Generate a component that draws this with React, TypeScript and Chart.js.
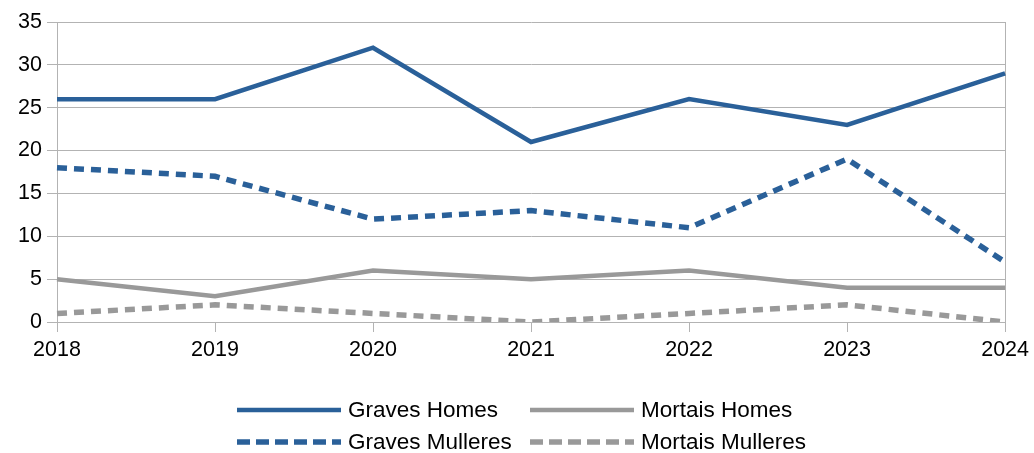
import React, { useEffect, useRef } from 'react';
import { Chart, registerables } from 'chart.js';

Chart.register(...registerables);

const years = ['2018', '2019', '2020', '2021', '2022', '2023', '2024'];
const gravesHomes = [26, 26, 32, 21, 26, 23, 29];
const mortaisHomes = [5, 3, 6, 5, 6, 4, 4];
const gravesMulleres = [18, 17, 12, 13, 11, 19, 7];
const mortaisMulleres = [1, 2, 1, 0, 1, 2, 0];
const seriesLabels = ['Graves Homes', 'Mortais Homes', 'Graves Mulleres', 'Mortais Mulleres'];

const BLUE = '#2a6099';
const GRAY = '#999999';
const GRID = '#b3b3b3';
const FONT = '"Liberation Sans", Arial, sans-serif';
const W = 1034;
const H = 453;

const gridLegend = {
  id: 'gridLegend',
  afterDraw(chart: any) {
    const ctx = chart.ctx;
    const cols = [237, 530];
    const rows = [410, 442];
    const lineLen = 104;
    chart.data.datasets.forEach((ds: any, i: number) => {
      const x = cols[i % 2];
      const y = rows[Math.floor(i / 2)];
      ctx.save();
      ctx.strokeStyle = ds.borderColor;
      ctx.lineWidth = ds.borderDash ? 5.5 : 4.5;
      ctx.lineCap = 'butt';
      ctx.setLineDash(ds.borderDash ? [13, 6] : []);
      ctx.beginPath();
      ctx.moveTo(x, y);
      ctx.lineTo(x + lineLen, y);
      ctx.stroke();
      ctx.setLineDash([]);
      ctx.fillStyle = '#000';
      ctx.font = `22.5px ${FONT}`;
      ctx.textBaseline = 'alphabetic';
      ctx.textAlign = 'left';
      ctx.fillText(ds.label, x + 111, y + 7);
      ctx.restore();
    });
  },
};

export default function App() {
  const ref = useRef<HTMLCanvasElement | null>(null);
  useEffect(() => {
    document.body.style.margin = '0';
    if (!ref.current) return;
    const dash = [10, 7];
    const chart = new Chart(ref.current, {
      type: 'line',
      data: {
        labels: years,
        datasets: [
          { label: seriesLabels[0], data: gravesHomes, borderColor: BLUE, borderWidth: 4.5, pointRadius: 0, tension: 0, fill: false },
          { label: seriesLabels[1], data: mortaisHomes, borderColor: GRAY, borderWidth: 4.5, pointRadius: 0, tension: 0, fill: false },
          { label: seriesLabels[2], data: gravesMulleres, borderColor: BLUE, borderWidth: 5.5, borderDash: dash, pointRadius: 0, tension: 0, fill: false },
          { label: seriesLabels[3], data: mortaisMulleres, borderColor: GRAY, borderWidth: 5.5, borderDash: dash, pointRadius: 0, tension: 0, fill: false },
        ],
      },
      options: {
        responsive: false,
        animation: false,
        layout: { padding: { left: 0, right: 28, top: 22, bottom: 81 } },
        plugins: { legend: { display: false }, tooltip: { enabled: false } },
        scales: {
          x: {
            type: 'category',
            offset: false,
            afterFit: (s: any) => { s.height = 50; },
            grid: {
              color: (c: any) => (c.index === 0 || c.index === years.length - 1 ? GRID : 'rgba(0,0,0,0)'),
              tickColor: GRID,
              tickLength: 10,
              drawTicks: true,
              lineWidth: 1,
            },
            border: { display: true, color: GRID },
            ticks: { color: '#000', font: { family: FONT, size: 21.5 }, padding: 5, maxRotation: 0, autoSkip: false },
          },
          y: {
            min: 0,
            max: 35,
            afterFit: (s: any) => { s.width = 57; },
            ticks: { stepSize: 5, color: '#000', font: { family: FONT, size: 21.5 }, padding: 5 },
            grid: { color: GRID, tickColor: GRID, tickLength: 10, lineWidth: 1 },
            border: { display: true, color: GRID },
          },
        },
      },
      plugins: [gridLegend],
    });
    return () => chart.destroy();
  }, []);
  return (
    <div style={{ width: W, height: H }}>
      <canvas ref={ref} width={W} height={H} style={{ display: 'block' }} />
    </div>
  );
}
